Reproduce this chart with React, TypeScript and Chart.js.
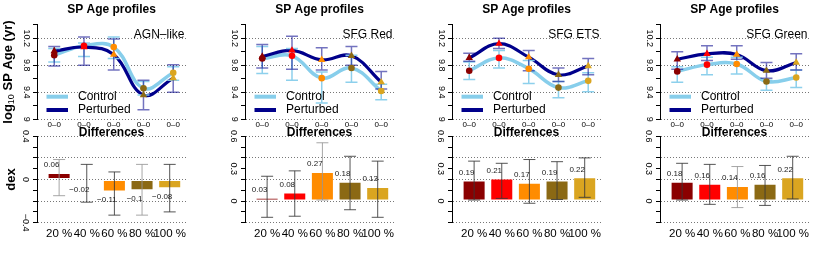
import React, { useEffect, useRef } from 'react';
import { Chart, registerables } from 'chart.js';

Chart.register(...registerables);

const FONT = "'Liberation Sans', Arial, Helvetica, sans-serif";
Chart.defaults.font.family = FONT;

// ---------------- data ----------------
const panelNames = ['AGN–like', 'SFG Red', 'SFG ETS', 'SFG Green'];
const binLabels = ['20 %', '40 %', '60 %', '80 %', '100 %'];
const profileTickLabels = ['0–0', '0–0', '0–0', '0–0', '0–0'];
const seriesNames = ['Control', 'Perturbed'];

const controlAge = [
  [9.95, 10.09, 10.07, 9.46, 9.69],
  [9.9, 9.94, 9.61, 9.76, 9.42],
  [9.72, 9.91, 9.75, 9.47, 9.57],
  [9.71, 9.81, 9.82, 9.56, 9.62],
];
const perturbedAge = [
  [10.01, 10.07, 9.96, 9.36, 9.61],
  [9.93, 10.02, 9.88, 9.94, 9.55],
  [9.91, 10.12, 9.92, 9.66, 9.79],
  [9.89, 9.97, 9.96, 9.72, 9.84],
];
const controlLo = [
  [9.85, 9.93, 9.9, 9.36, 9.58],
  [9.68, 9.58, 9.24, 9.55, 9.29],
  [9.59, 9.76, 9.53, 9.32, 9.41],
  [9.55, 9.66, 9.67, 9.43, 9.47],
];
const controlHi = [
  [10.05, 10.13, 10.22, 9.56, 9.78],
  [10.08, 10.05, 9.7, 9.95, 9.52],
  [9.85, 10.02, 9.87, 9.56, 9.69],
  [9.78, 9.92, 9.92, 9.58, 9.73],
];
const perturbedLo = [
  [9.79, 9.8, 9.73, 9.14, 9.4],
  [9.76, 9.74, 9.73, 9.8, 9.45],
  [9.86, 10.05, 9.72, 9.56, 9.66],
  [9.74, 9.87, 9.89, 9.61, 9.73],
];
const perturbedHi = [
  [10.08, 10.22, 10.19, 9.58, 9.81],
  [10.11, 10.23, 10.06, 10.08, 9.71],
  [9.98, 10.2, 10.02, 9.76, 9.9],
  [10.0, 10.09, 10.09, 9.84, 9.97],
];

const diffValues = [
  [0.06, -0.02, -0.11, -0.1, -0.08],
  [0.03, 0.08, 0.27, 0.18, 0.13],
  [0.19, 0.21, 0.17, 0.19, 0.22],
  [0.18, 0.16, 0.14, 0.16, 0.22],
];
const diffLo = [
  [-0.15, -0.21, -0.33, -0.33, -0.3],
  [-0.15, -0.14, 0.01, -0.08, -0.15],
  [0.01, 0.025, -0.02, 0.015, 0.035],
  [0.01, -0.03, -0.06, -0.04, 0.02],
];
const diffHi = [
  [0.185, 0.14, 0.07, 0.14, 0.14],
  [0.23, 0.28, 0.54, 0.415, 0.37],
  [0.37, 0.35, 0.385, 0.365, 0.4],
  [0.35, 0.34, 0.32, 0.33, 0.415],
];

// axis tick definitions
const ageRange = [9, 10.4];
const ageStep = 0.2;
const ageLabelled = [9, 9.4, 9.8, 10.2];
const ageGridAt = [9, 9.4, 9.8, 10.2];
const diffRanges = [[-0.4, 0.4], [-0.2, 0.6], [-0.2, 0.6], [-0.2, 0.6]];
const diffStep = 0.1;
const diffLabelled = [[-0.4, 0, 0.4], [0, 0.3, 0.6], [0, 0.3, 0.6], [0, 0.3, 0.6]];
const diffGridAt = [
  [-0.4, -0.2, 0, 0.2, 0.4],
  [-0.2, 0, 0.2, 0.4, 0.6],
  [-0.2, 0, 0.2, 0.4, 0.6],
  [-0.2, 0, 0.2, 0.4, 0.6],
];

// ---------------- styles / layout ----------------
const binColors = ['#8B0000', '#FF0000', '#FF8C00', '#8B6914', '#DAA520'];
const diffErrFaint = [
  [1, 0, 0, 1, 0],
  [0, 0, 1, 0, 0],
  [0, 0, 0, 0, 0],
  [0, 0, 1, 0, 0],
];
const CTRL_LINE = '#87CEEB';
const PERT_LINE = '#00008B';
const CTRL_ERR = 'rgba(135,206,235,0.95)';
const PERT_ERR = 'rgba(0,0,139,0.55)';
const GRID = '#777';
const BAR_EDGE = 'rgba(255,255,255,0.55)';
const ERR_DARK = 'rgba(55,55,55,0.85)';
const ERR_FAINT = 'rgba(150,150,150,0.85)';

const COL_LEFT = [0, 208, 415, 623];
const CANVAS_W = 207;
const AXIS_W = 37;
const PAD_RIGHT = 21;
const TICK_LEN = 4;
const TOP_H = 132;
const TOP_XAXIS_H = 12.7;
const BOT_TOP = 124;
const BOT_H = 132;
const BOT_XAXIS_H = 33.3;
const TOP_XRANGE = [-0.58, 4.43];
const BOT_XRANGE = [-0.8, 4.59];
const BAR_FRAC = 0.833;

const isAt = (list: number[], v: any) =>
  typeof v === 'number' && list.some((g) => Math.abs(g - v) < 1e-6);
const fmtNum = (v: number) => {
  const r = Math.round(v * 100) / 100;
  return (r === 0 ? '0' : String(r)).replace('-', '\u2212');
};

function centeredTickPadding(labels: string[], size: number, target: number) {
  const c = document.createElement('canvas').getContext('2d')!;
  c.font = `${size}px ${FONT}`;
  const w = Math.max(...labels.map((s) => c.measureText(s).width));
  return target - TICK_LEN - w / 2;
}

function yAxis(range: number[], step: number, labelled: number[], gridAt: number[], pad: number, title: any) {
  return {
    type: 'linear',
    min: range[0],
    max: range[1],
    ticks: {
      stepSize: step,
      autoSkip: false,
      minRotation: -90,
      maxRotation: -90,
      crossAlign: 'center',
      padding: pad,
      color: '#000',
      font: { size: 9, family: FONT },
      callback: (v: number) => (isAt(labelled, v) ? fmtNum(v) : ''),
    },
    grid: {
      color: (c: any) => (isAt(gridAt, c.tick && c.tick.value) ? GRID : 'rgba(0,0,0,0)'),
      lineWidth: 1,
      drawTicks: true,
      tickLength: TICK_LEN,
      tickColor: '#000',
      tickWidth: 1,
    },
    border: { display: true, color: '#000', width: 1, dash: [1, 2] },
    title,
    afterFit: (s: any) => {
      s.width = AXIS_W;
    },
  };
}

function ProfilePanel({ p }: { p: number }) {
  const ref = useRef<HTMLCanvasElement | null>(null);
  useEffect(() => {
    const canvas = ref.current;
    if (!canvas) return;
    const xy = (arr: number[]) => arr.map((y, i) => ({ x: i, y }));
    const pad = centeredTickPadding(ageLabelled.map(fmtNum), 9, 10.5);

    const errorBars = {
      id: 'ageErrors',
      beforeDatasetDraw(chart: any, args: any) {
        if (args.index !== 2) return;
        const { ctx } = chart;
        const xs = chart.scales.x;
        const ys = chart.scales.y;
        const draw = (lo: number[], hi: number[], color: string) => {
          ctx.save();
          ctx.strokeStyle = color;
          ctx.lineWidth = 1.5;
          ctx.beginPath();
          lo.forEach((l, i) => {
            const x = xs.getPixelForValue(i);
            const y1 = ys.getPixelForValue(l);
            const y2 = ys.getPixelForValue(hi[i]);
            ctx.moveTo(x, y1);
            ctx.lineTo(x, y2);
            ctx.moveTo(x - 6, y1);
            ctx.lineTo(x + 6, y1);
            ctx.moveTo(x - 6, y2);
            ctx.lineTo(x + 6, y2);
          });
          ctx.stroke();
          ctx.restore();
        };
        draw(controlLo[p], controlHi[p], CTRL_ERR);
        draw(perturbedLo[p], perturbedHi[p], PERT_ERR);
      },
    };

    const legendAndLabel = {
      id: 'ageLegend',
      afterDatasetsDraw(chart: any) {
        const { ctx, chartArea: a } = chart;
        ctx.save();
        const rows = [
          { ds: chart.data.datasets[0], dy: 71.9 },
          { ds: chart.data.datasets[1], dy: 85.2 },
        ];
        ctx.font = `12px ${FONT}`;
        ctx.textBaseline = 'middle';
        ctx.textAlign = 'left';
        rows.forEach(({ ds, dy }) => {
          ctx.strokeStyle = ds.borderColor;
          ctx.lineWidth = 4;
          ctx.lineCap = 'butt';
          ctx.beginPath();
          ctx.moveTo(a.left + 9.5, a.top + dy);
          ctx.lineTo(a.left + 31, a.top + dy);
          ctx.stroke();
          ctx.fillStyle = '#000';
          ctx.fillText(ds.label, a.left + 41, a.top + dy);
        });
        ctx.textAlign = 'right';
        ctx.fillText(panelNames[p], a.right - 1.5, a.top + 9.5);
        ctx.restore();
      },
    };

    const ageTitle = {
      id: 'ageTitle',
      afterDraw(chart: any) {
        if (p !== 0) return;
        const { ctx, chartArea: a } = chart;
        const big = `bold 13px ${FONT}`;
        const small = `9px ${FONT}`;
        ctx.save();
        ctx.translate(8, (a.top + a.bottom) / 2);
        ctx.rotate(-Math.PI / 2);
        ctx.fillStyle = '#000';
        ctx.textBaseline = 'middle';
        ctx.textAlign = 'left';
        ctx.font = big;
        const w1 = ctx.measureText('log').width;
        const w3 = ctx.measureText(' SP Age (yr)').width;
        ctx.font = small;
        const w2 = ctx.measureText('10').width;
        let x = -(w1 + w2 + w3) / 2;
        ctx.font = big;
        ctx.fillText('log', x, 0);
        x += w1;
        ctx.font = small;
        ctx.fillText('10', x, 3.5);
        x += w2;
        ctx.font = big;
        ctx.fillText(' SP Age (yr)', x, 0);
        ctx.restore();
      },
    };

    const chart = new Chart(canvas, {
      type: 'line',
      data: {
        datasets: [
          {
            label: seriesNames[0],
            data: xy(controlAge[p]),
            borderColor: CTRL_LINE,
            borderWidth: 3.5,
            tension: 0.4,
            pointRadius: 0,
            fill: false,
            borderCapStyle: 'round',
            borderJoinStyle: 'round',
            order: 4,
            clip: false,
          },
          {
            label: seriesNames[1],
            data: xy(perturbedAge[p]),
            borderColor: PERT_LINE,
            borderWidth: 3.2,
            tension: 0.4,
            pointRadius: 0,
            fill: false,
            borderCapStyle: 'round',
            borderJoinStyle: 'round',
            order: 3,
            clip: false,
          },
          {
            label: seriesNames[0] + ' mean',
            data: xy(controlAge[p]),
            showLine: false,
            pointStyle: 'circle',
            pointRadius: 3.3,
            pointBackgroundColor: binColors,
            pointBorderColor: binColors,
            pointBorderWidth: 0,
            order: 2,
            clip: false,
          },
          {
            label: seriesNames[1] + ' mean',
            data: xy(perturbedAge[p]),
            showLine: false,
            pointStyle: 'triangle',
            pointRadius: 4.3,
            pointBackgroundColor: binColors,
            pointBorderColor: binColors,
            pointBorderWidth: 0,
            order: 1,
            clip: false,
          },
        ],
      },
      options: {
        responsive: false,
        animation: false,
        devicePixelRatio: 1,
        events: [],
        layout: { padding: { left: 0, right: PAD_RIGHT, top: 0, bottom: 0 } },
        plugins: {
          legend: { display: false },
          tooltip: { enabled: false },
          title: {
            display: true,
            text: 'SP Age profiles',
            fullSize: false,
            color: '#000',
            font: { size: 12, weight: 'bold', family: FONT, lineHeight: 1.2 },
            padding: { top: 2.8, bottom: 7.6 },
          },
        },
        scales: {
          x: {
            type: 'linear',
            min: TOP_XRANGE[0],
            max: TOP_XRANGE[1],
            afterBuildTicks: (s: any) => {
              s.ticks = profileTickLabels.map((_, i) => ({ value: i }));
            },
            ticks: {
              autoSkip: false,
              minRotation: 0,
              maxRotation: 0,
              padding: 0.4,
              color: '#000',
              font: { size: 8, family: FONT },
              callback: (_v: any, i: number) => profileTickLabels[i],
            },
            grid: { display: false, drawTicks: false },
            border: { display: false },
            afterFit: (s: any) => {
              s.height = TOP_XAXIS_H;
            },
          },
          y: yAxis(ageRange, ageStep, ageLabelled, ageGridAt, pad, { display: false }),
        },
      } as any,
      plugins: [errorBars, legendAndLabel, ageTitle],
    } as any);
    return () => chart.destroy();
  }, [p]);
  return (
    <canvas
      ref={ref}
      width={CANVAS_W}
      height={TOP_H}
      style={{ position: 'absolute', left: COL_LEFT[p], top: 0, width: CANVAS_W, height: TOP_H }}
    />
  );
}

function DiffPanel({ p }: { p: number }) {
  const ref = useRef<HTMLCanvasElement | null>(null);
  useEffect(() => {
    const canvas = ref.current;
    if (!canvas) return;
    const pad = centeredTickPadding(diffLabelled[p].map(fmtNum), 9, 11.5);

    const errorsAndLabels = {
      id: 'diffErrors',
      afterDatasetsDraw(chart: any) {
        const { ctx } = chart;
        const xs = chart.scales.x;
        const ys = chart.scales.y;
        ctx.save();
        diffValues[p].forEach((v, i) => {
          const x = xs.getPixelForValue(i);
          const y1 = ys.getPixelForValue(diffLo[p][i]);
          const y2 = ys.getPixelForValue(diffHi[p][i]);
          ctx.strokeStyle = diffErrFaint[p][i] ? ERR_FAINT : ERR_DARK;
          ctx.lineWidth = 1;
          ctx.beginPath();
          ctx.moveTo(x, y1);
          ctx.lineTo(x, y2);
          ctx.moveTo(x - 6, y1);
          ctx.lineTo(x + 6, y1);
          ctx.moveTo(x - 6, y2);
          ctx.lineTo(x + 6, y2);
          ctx.stroke();
        });
        ctx.font = `8px ${FONT}`;
        ctx.fillStyle = '#222';
        ctx.textAlign = 'center';
        ctx.textBaseline = 'middle';
        diffValues[p].forEach((v, i) => {
          const x = xs.getPixelForValue(i);
          const yv = ys.getPixelForValue(v);
          const ty = v >= 0 ? yv - 8 : yv + 8.3;
          ctx.fillText(fmtNum(v), x - 7.5, ty);
        });
        ctx.restore();
      },
    };

    const chart = new Chart(canvas, {
      type: 'bar',
      data: {
        datasets: [
          {
            label: 'Differences',
            data: diffValues[p].map((y, i) => ({ x: i, y })),
            backgroundColor: binColors,
            borderColor: BAR_EDGE,
            borderWidth: 1,
            borderSkipped: false,
            barPercentage: BAR_FRAC,
            categoryPercentage: 1,
            clip: false,
          },
        ],
      },
      options: {
        responsive: false,
        animation: false,
        devicePixelRatio: 1,
        events: [],
        layout: { padding: { left: 0, right: PAD_RIGHT, top: 0, bottom: 0 } },
        plugins: {
          legend: { display: false },
          tooltip: { enabled: false },
          title: {
            display: true,
            text: 'Differences',
            fullSize: false,
            color: '#000',
            font: { size: 12, weight: 'bold', family: FONT, lineHeight: 0.6 },
            padding: { top: 5.1, bottom: 0 },
          },
        },
        scales: {
          x: {
            type: 'linear',
            offset: false,
            min: BOT_XRANGE[0],
            max: BOT_XRANGE[1],
            afterBuildTicks: (s: any) => {
              s.ticks = binLabels.map((_, i) => ({ value: i }));
            },
            ticks: {
              autoSkip: false,
              minRotation: 0,
              maxRotation: 0,
              padding: 4.7,
              color: '#000',
              font: { size: 11.5, family: FONT },
              callback: (_v: any, i: number) => binLabels[i],
            },
            grid: { display: false, drawTicks: false, offset: false },
            border: { display: false },
            afterFit: (s: any) => {
              s.height = BOT_XAXIS_H;
            },
          },
          y: yAxis(diffRanges[p], diffStep, diffLabelled[p], diffGridAt[p], pad, {
            display: p === 0,
            text: 'dex',
            color: '#000',
            font: { size: 13, weight: 'bold', family: FONT },
            padding: { top: 3.9, bottom: 0 },
          }),
        },
      } as any,
      plugins: [errorsAndLabels],
    } as any);
    return () => chart.destroy();
  }, [p]);
  return (
    <canvas
      ref={ref}
      width={CANVAS_W}
      height={BOT_H}
      style={{ position: 'absolute', left: COL_LEFT[p], top: BOT_TOP, width: CANVAS_W, height: BOT_H }}
    />
  );
}

export default function App() {
  return (
    <div
      style={{
        position: 'absolute',
        left: 0,
        top: 0,
        width: 830,
        height: 256,
        overflow: 'hidden',
        background: '#fff',
      }}
    >
      {panelNames.map((_, p) => (
        <ProfilePanel key={'top' + p} p={p} />
      ))}
      {panelNames.map((_, p) => (
        <DiffPanel key={'bot' + p} p={p} />
      ))}
    </div>
  );
}
